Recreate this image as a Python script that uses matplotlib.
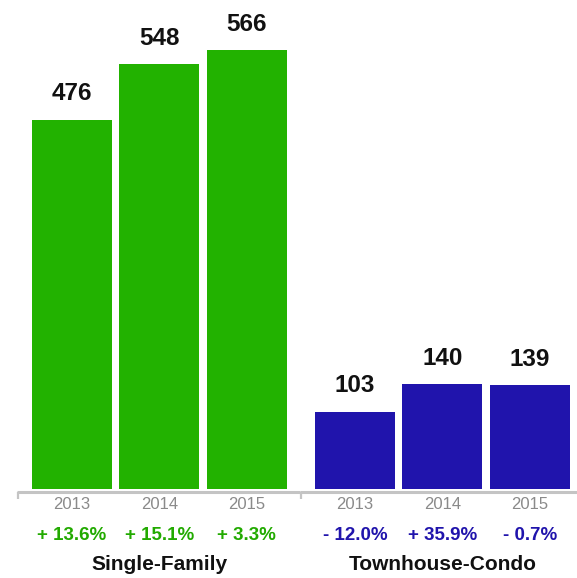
import matplotlib
matplotlib.use("Agg")
import matplotlib.pyplot as plt

plt.rcParams['font.family'] = ['Liberation Sans', 'DejaVu Sans']

# Closed sales by year for each property type
years = ["2013", "2014", "2015"]
groups = ["Single-Family", "Townhouse-Condo"]
sf_values = [476, 548, 566]
tc_values = [103, 140, 139]
sf_change = [13.6, 15.1, 3.3]
tc_change = [-12.0, 35.9, -0.7]

bar_colors = ["#22b200", "#2014ac"]
text_colors = ["#22aa00", "#2014ac"]

W, H = 577, 578
fig = plt.figure(figsize=(W / 100, H / 100), dpi=100)


def fy(py):
    """Figure pixel row (from top) -> axes fraction for full-height axes."""
    return 1 - py / H


def panel(left_px, right_px, values, changes, title, bar_color, text_color,
          px_per_unit, x_offset):
    ax = fig.add_axes([left_px / W, 0, (right_px - left_px) / W, 1])
    base_px = 488.5
    # y-limits so that 0 sits on the baseline row with the given scale
    ax.set_ylim(-(H - base_px) / px_per_unit, base_px / px_per_unit)
    step = 87.4
    ax.set_xlim(-x_offset / step, -x_offset / step + (right_px - left_px) / step)
    xs = list(range(len(values)))
    ax.bar(xs, values, width=80 / step, color=bar_color, linewidth=0)
    for x, v in zip(xs, values):
        ax.annotate(f"{v}", (x, v), xytext=(0, 14), textcoords="offset points",
                    ha="center", va="baseline", fontsize=17.5, fontweight="bold",
                    color="#111111")
    tr = ax.get_xaxis_transform()
    for x, yr, c in zip(xs, years, changes):
        ax.text(x, fy(509), yr, transform=tr, ha="center", va="baseline",
                fontsize=12, color="#8a8a8a")
        sign = "+" if c > 0 else "-"
        ax.text(x, fy(539.5), f"{sign} {abs(c):.1f}%", transform=tr,
                ha="center", va="baseline", fontsize=13.5, fontweight="bold",
                color=text_color)
    ax.text((xs[0] + xs[-1]) / 2, fy(569.5), title, transform=tr, ha="center",
            va="baseline", fontsize=15, fontweight="bold", color="#111111")
    # baseline rule with a short tick at the panel start
    ax.plot([0, 1], [fy(492), fy(492)], transform=ax.transAxes,
            color="#c4c4c4", lw=2.2, solid_capstyle="butt", clip_on=False)
    ax.plot([1 / (right_px - left_px), 1 / (right_px - left_px)],
            [fy(492), fy(498.5)], transform=ax.transAxes,
            color="#c4c4c4", lw=1.6, solid_capstyle="butt", clip_on=False)
    ax.axis("off")
    return ax


panel(17, 300, sf_values, sf_change, groups[0], bar_colors[0], text_colors[0],
      0.7746, 55)
panel(300, 577, tc_values, tc_change, groups[1], bar_colors[1], text_colors[1],
      0.744, 55)

fig.savefig("out.png", dpi=100, facecolor="white")
